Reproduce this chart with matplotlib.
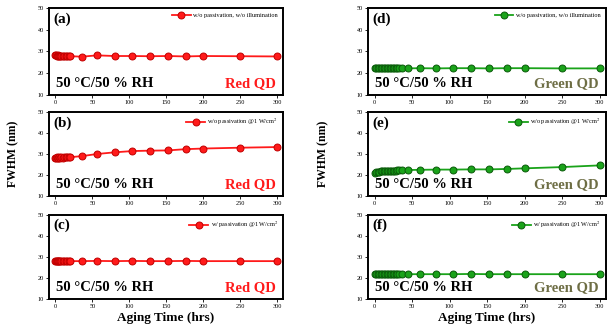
import numpy as np
import matplotlib.pyplot as plt

plt.rcParams['font.family'] = ['Liberation Serif', 'DejaVu Serif']
plt.rcParams['mathtext.fontset'] = 'stix'

# aging times (hrs)
t_red = [0, 1, 2, 3, 4, 5, 6, 8, 10, 12, 14, 16, 18, 20, 36, 56, 80, 104, 128, 152, 176, 200, 250, 300]
t_green = [0, 2, 4, 6, 8, 10, 12, 14, 16, 18, 20, 22, 24, 26, 28, 30, 32, 36, 44, 60, 82, 104, 128, 152, 176, 200, 250, 300]

# FWHM (nm)
fwhm_a = [28.2, 28.3, 28.1, 28.2, 28.0, 28.1, 28.0, 28.1, 27.9, 28.0, 27.9, 27.8, 27.9, 27.8,
          27.6, 28.2, 27.9, 27.9, 27.8, 27.9, 27.7, 27.9, 27.8, 27.7]
fwhm_b = [28.3, 28.2, 28.4, 28.3, 28.2, 28.4, 28.3, 28.4, 28.3, 28.4, 28.5, 28.4, 28.5, 28.5,
          29.0, 30.0, 30.8, 31.4, 31.6, 31.7, 32.3, 32.6, 33.0, 33.3]
fwhm_c = [28.1, 28.0, 28.1, 28.0, 28.1, 28.0, 28.0, 28.1, 28.0, 28.0, 28.0, 28.1, 28.0, 28.0,
          28.0, 28.1, 28.0, 28.1, 28.0, 28.0, 28.1, 28.0, 28.0, 28.0]
fwhm_d = [22.4, 22.3, 22.3, 22.4, 22.3, 22.3, 22.2, 22.3, 22.3, 22.2, 22.3, 22.3, 22.2, 22.3,
          22.3, 22.2, 22.3, 22.3, 22.2, 22.3, 22.2, 22.3, 22.3, 22.2, 22.3, 22.3, 22.2, 22.2]
fwhm_e = [21.2, 21.4, 21.5, 21.6, 21.7, 21.8, 21.8, 21.9, 21.9, 22.0, 22.0, 22.0, 22.1, 22.1,
          22.1, 22.2, 22.2, 22.2, 22.4, 22.5, 22.6, 22.6, 22.7, 22.7, 22.9, 23.2, 23.8, 24.6]
fwhm_f = [21.8, 21.8, 21.9, 21.8, 21.8, 21.8, 21.9, 21.8, 21.8, 21.8, 21.8, 21.9, 21.8, 21.8,
          21.8, 21.8, 21.9, 21.8, 21.8, 21.8, 21.8, 21.8, 21.9, 21.8, 21.8, 21.8, 21.8, 21.8]

labels = ['(a)', '(b)', '(c)', '(d)', '(e)', '(f)']
legends = ['w/o passivation, w/o illumination',
           'w/o passivation @1 W/cm$^2$',
           'w/ passivation @1 W/cm$^2$'] * 2

red = '#ff1a1a'
green = '#1aa31a'

fig = plt.figure(figsize=(6.1, 3.33), dpi=100)

lefts = [0.080, 0.603]
widths = [0.384, 0.390]
bottoms = [0.715, 0.411, 0.102]
heights = [0.261, 0.253, 0.253]
ylab_x = [-0.125, -0.16]

series = [(t_red, fwhm_a), (t_red, fwhm_b), (t_red, fwhm_c),
          (t_green, fwhm_d), (t_green, fwhm_e), (t_green, fwhm_f)]

for k in range(6):
    col = k // 3
    row = k % 3
    ax = fig.add_axes([lefts[col], bottoms[row], widths[col], heights[row]])
    t, y = series[k]
    c = red if col == 0 else green
    ec = '#c00000' if col == 0 else '#0a5a0a'
    ax.plot(t, y, '-o', color=c, lw=1.3, ms=5, mfc=c, mec=ec, mew=0.7,
            label=legends[k])
    ax.set_xlim(-9, 308)
    ax.set_ylim(10, 50)
    ax.set_yticks([10, 20, 30, 40, 50])
    ax.set_xticks([0, 50, 100, 150, 200, 250, 300])
    ax.tick_params(labelsize=4.5, width=0.6, length=2, pad=1.5)
    for s in ax.spines.values():
        s.set_linewidth(1.4)
    ax.text(0.02, 0.95, labels[k], transform=ax.transAxes, fontsize=11,
            fontweight='bold', va='top', ha='left')
    ax.text(0.03, 0.06, '50 °C/50 % RH', transform=ax.transAxes, fontsize=10.5,
            fontweight='bold', va='bottom', ha='left')
    qd = 'Red QD' if col == 0 else 'Green QD'
    qc = red if col == 0 else '#6e6e45'
    ax.text(0.97, 0.06, qd, transform=ax.transAxes, fontsize=10.5,
            fontweight='bold', va='bottom', ha='right', color=qc)
    ax.legend(loc='upper right', fontsize=4.5, frameon=False, handlelength=3,
              borderaxespad=0.4, handletextpad=0.4)
    if row == 1:
        ax.set_ylabel('FWHM (nm)', fontsize=8.5, fontweight='bold')
        ax.yaxis.set_label_coords(ylab_x[col], 0.5)
    if row == 2:
        ax.set_xlabel('Aging Time (hrs)', fontsize=9.5, fontweight='bold', labelpad=2)

fig.savefig('out.png', dpi=100)
